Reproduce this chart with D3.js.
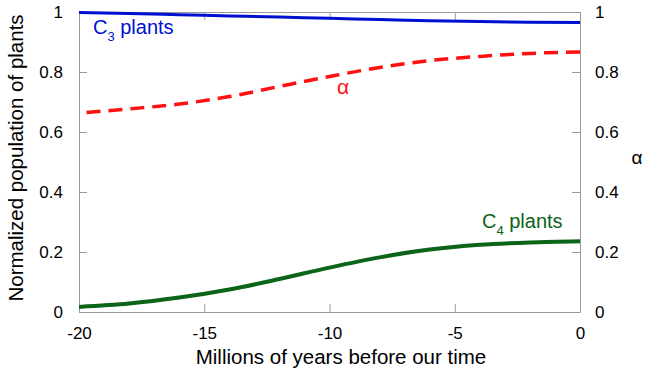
<!DOCTYPE html>
<html>
<head>
<meta charset="utf-8">
<script src="https://cdn.jsdelivr.net/npm/d3@7"></script>
<style>
  body { margin: 0; background: #fff; }
  text { font-family: "Liberation Sans", Arial, sans-serif; }
</style>
</head>
<body>
<script>
var width = 645, height = 371;
var margin = {top: 12, right: 65, bottom: 59, left: 79};

// values
var years = [-20, -18, -16, -14, -12, -10, -8, -6, -4, -2, 0];
var c3 = [0.998, 0.995, 0.991, 0.987, 0.983, 0.979, 0.975, 0.971, 0.968, 0.966, 0.965];
var c4 = [0.017, 0.028, 0.048, 0.075, 0.11, 0.148, 0.182, 0.208, 0.224, 0.232, 0.236];
var alphaYears = [-19.7, -18, -16, -14, -12, -10, -8, -6, -4, -2, 0];
var alpha = [0.665, 0.677, 0.693, 0.718, 0.752, 0.785, 0.815, 0.838, 0.852, 0.862, 0.867];
var xTicks = [-20, -15, -10, -5, 0];
var yTicks = [0, 0.2, 0.4, 0.6, 0.8, 1];

var svg = d3.select('body').append('svg')
  .attr('width', width)
  .attr('height', height);

var x = d3.scaleLinear().domain([-20, 0]).range([margin.left, width - margin.right]);
var y = d3.scaleLinear().domain([0, 1]).range([height - margin.bottom, margin.top]);

var frame = '#999';

function styleAxis(g) {
  g.select('.domain').attr('stroke', frame);
  g.selectAll('.tick line').attr('stroke', frame);
  g.selectAll('.tick text').attr('fill', '#000').style('font-size', '17px')
    .style('font-family', '"Liberation Sans", Arial, sans-serif');
}

// plain hyphen for negatives, like the original
var fmtX = function(d) { return String(d); };
var fmtY = function(d) { return d === 0 ? '0' : d === 1 ? '1' : d3.format('.1f')(d); };

svg.append('g')
  .attr('transform', 'translate(0,' + y(0) + ')')
  .call(d3.axisBottom(x).tickValues(xTicks).tickSizeInner(-8).tickSizeOuter(0).tickPadding(15).tickFormat(fmtX))
  .call(styleAxis);

svg.append('g')
  .attr('transform', 'translate(0,' + y(1) + ')')
  .call(d3.axisTop(x).tickValues(xTicks).tickSizeInner(-8).tickSizeOuter(0).tickFormat(''))
  .call(styleAxis);

svg.append('g')
  .attr('transform', 'translate(' + x(-20) + ',0)')
  .call(d3.axisLeft(y).tickValues(yTicks).tickSizeInner(-8).tickSizeOuter(0).tickPadding(16).tickFormat(fmtY))
  .call(styleAxis);

svg.append('g')
  .attr('transform', 'translate(' + x(0) + ',0)')
  .call(d3.axisRight(y).tickValues(yTicks).tickSizeInner(-8).tickSizeOuter(0).tickPadding(15).tickFormat(fmtY))
  .call(styleAxis);

var line = d3.line()
  .x(function(d) { return x(d[0]); })
  .y(function(d) { return y(d[1]); })
  .curve(d3.curveMonotoneX);

svg.append('path')
  .datum(d3.zip(years, c3))
  .attr('d', line)
  .attr('fill', 'none')
  .attr('stroke', '#0010d0')
  .attr('stroke-width', 3);

svg.append('path')
  .datum(d3.zip(alphaYears, alpha))
  .attr('d', line)
  .attr('fill', 'none')
  .attr('stroke', '#ff1010')
  .attr('stroke-width', 3.5)
  .attr('stroke-dasharray', '14,8');

svg.append('path')
  .datum(d3.zip(years, c4))
  .attr('d', line)
  .attr('fill', 'none')
  .attr('stroke', '#0b6418')
  .attr('stroke-width', 4);

// curve labels
var c3Label = svg.append('text')
  .attr('x', 93).attr('y', 34)
  .attr('fill', '#0010d0')
  .style('font-size', '20px');
c3Label.append('tspan').text('C');
c3Label.append('tspan').attr('dy', 7).style('font-size', '13px').text('3');
c3Label.append('tspan').attr('dy', -7).text(' plants');

var c4Label = svg.append('text')
  .attr('x', 482).attr('y', 228)
  .attr('fill', '#0b6418')
  .style('font-size', '20px');
c4Label.append('tspan').text('C');
c4Label.append('tspan').attr('dy', 7).style('font-size', '13px').text('4');
c4Label.append('tspan').attr('dy', -7).text(' plants');

svg.append('text')
  .attr('x', 343).attr('y', 94)
  .attr('text-anchor', 'middle')
  .attr('fill', '#ff1010')
  .style('font-size', '21px')
  .text('α');

// axis titles
svg.append('text')
  .attr('transform', 'translate(23,' + (y(0.5) - 4) + ') rotate(-90)')
  .attr('text-anchor', 'middle')
  .attr('fill', '#000')
  .style('font-size', '20.5px')
  .text('Normalized population of plants');

svg.append('text')
  .attr('x', 637).attr('y', 164)
  .attr('text-anchor', 'middle')
  .attr('fill', '#000')
  .style('font-size', '19px')
  .text('α');

svg.append('text')
  .attr('x', 341).attr('y', 364)
  .attr('text-anchor', 'middle')
  .attr('fill', '#000')
  .style('font-size', '20.5px')
  .text('Millions of years before our time');
</script>
</body>
</html>
